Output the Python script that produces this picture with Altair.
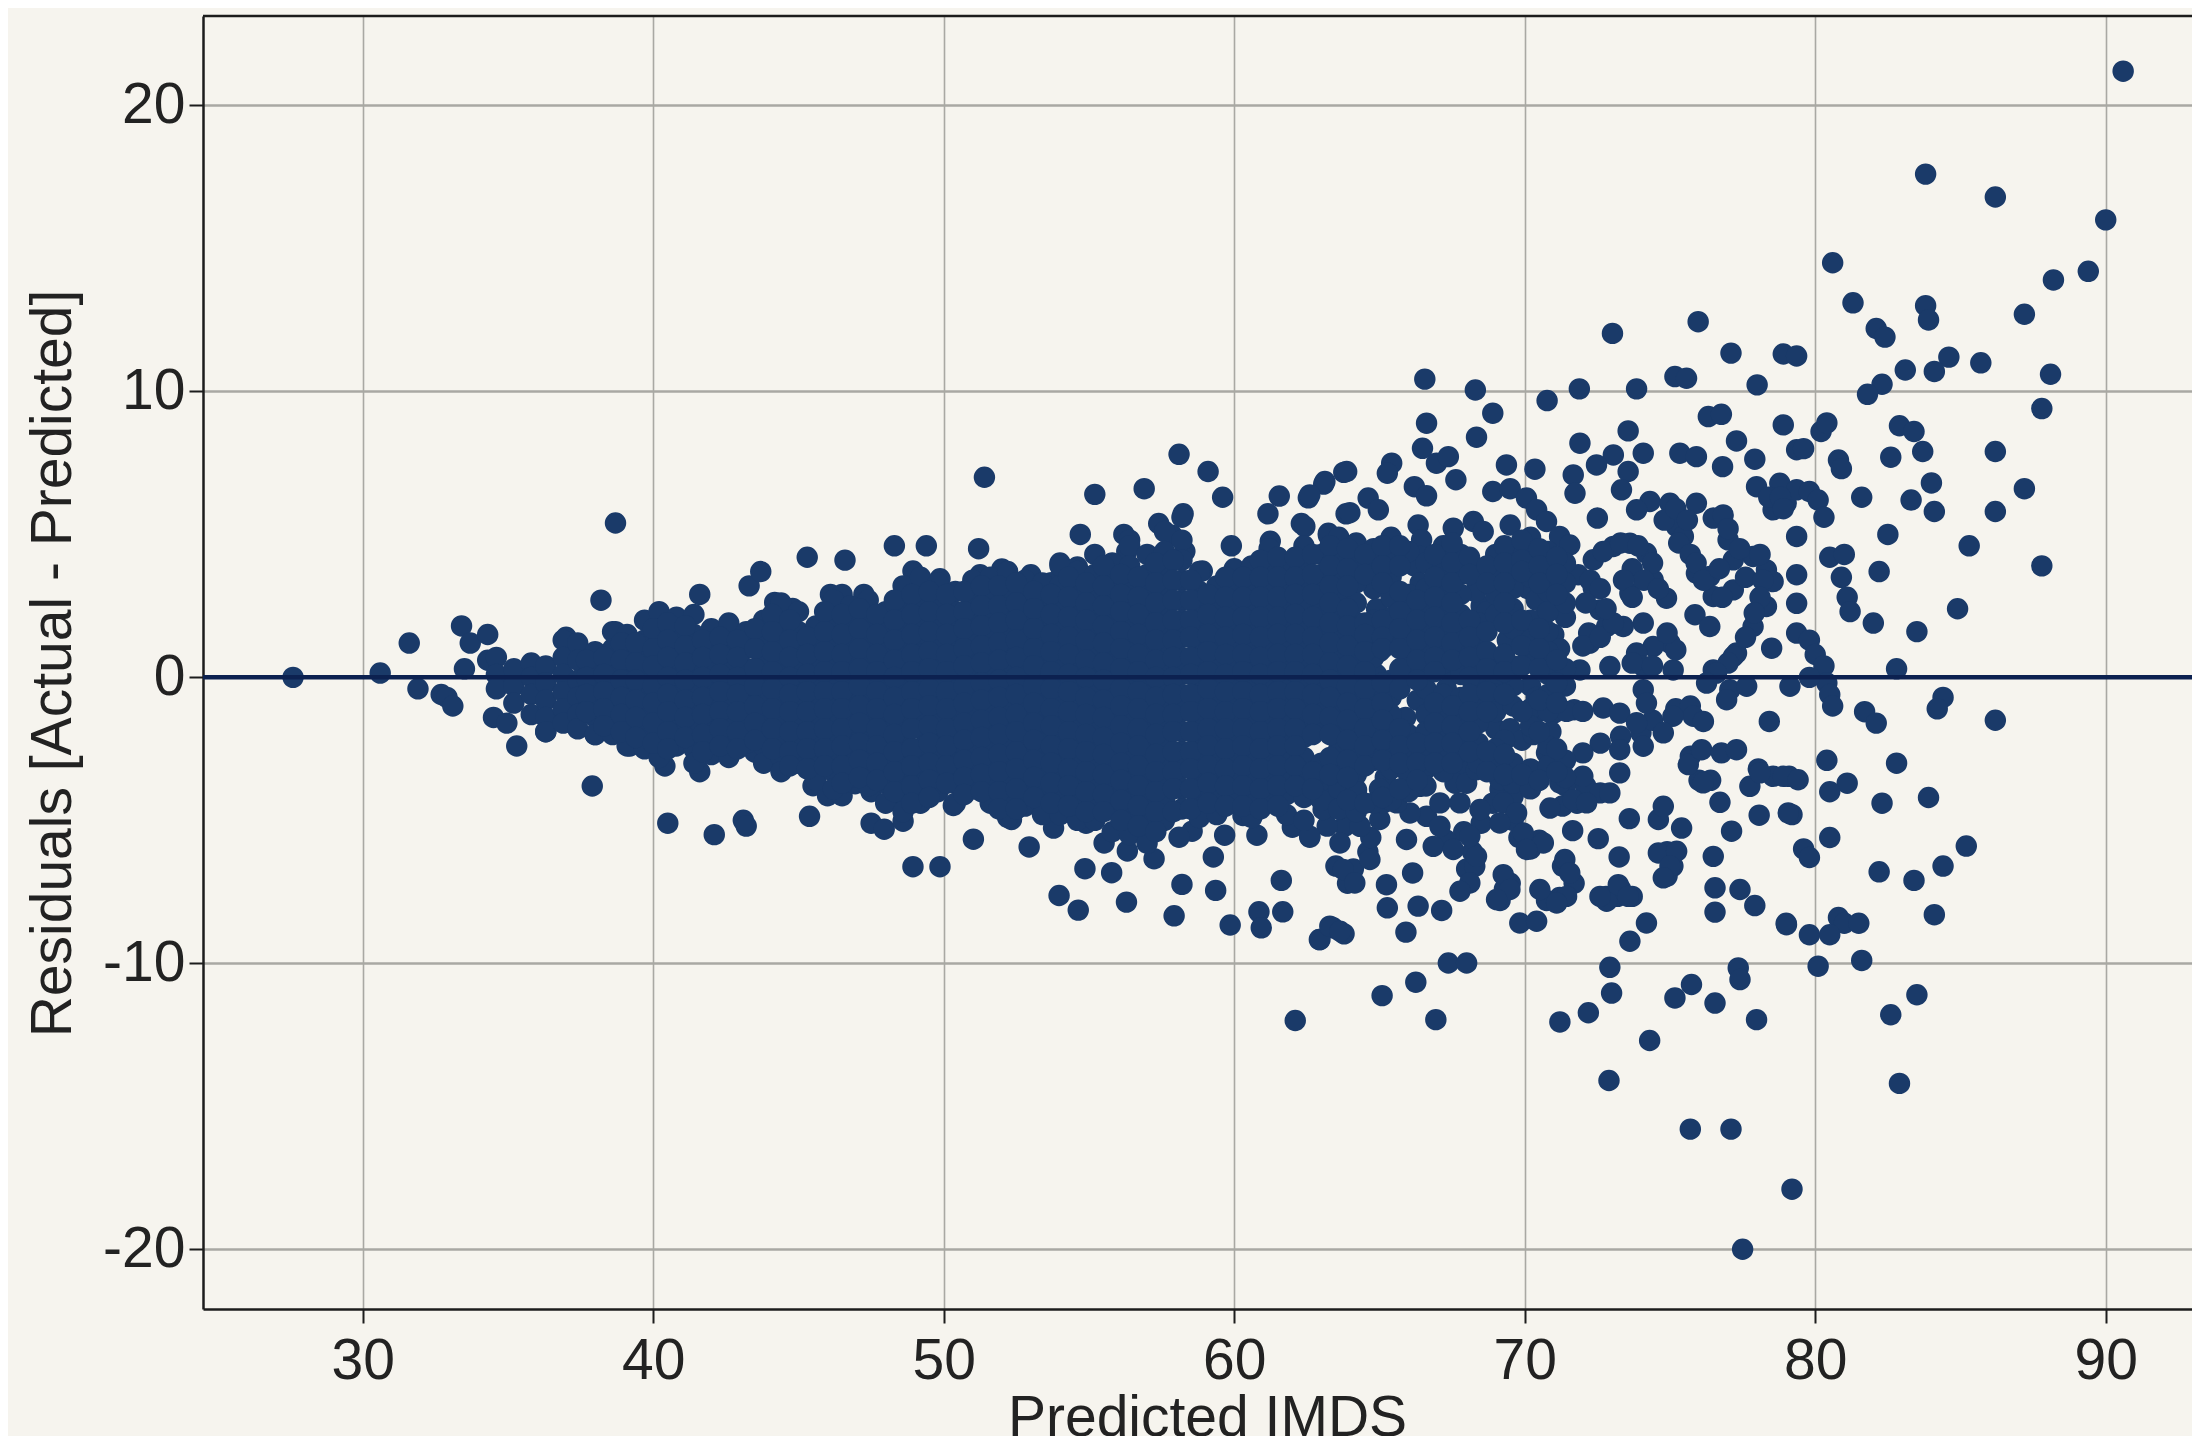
import altair as alt
import pandas as pd

# Hand-read points: sparse outer points, (predicted, residual)
left_tail = [(27.6,0.0),(30.6,0.15),(31.6,1.2),(31.9,-0.4),(32.7,-0.6),(32.9,-0.7),(33.1,-1.0),(33.4,1.8),
 (33.7,1.2),(34.3,1.5),(33.5,0.3),(34.3,0.6),(34.7,-0.1),(34.5,-1.4),(34.96,-1.6),(35.3,-2.4),(36.3,-1.9),
 (37.0,1.4),(37.2,-1.6),(38.2,2.7),(37.9,-3.8),(38.0,-2.0),(38.7,1.6),(38.7,5.4),(39.2,-2.4),(40.4,-3.1),
 (40.5,-5.1),(41.6,-3.3),(42.1,-5.5),(43.1,-5.0),(43.2,-5.2),(41.6,2.9),(43.3,3.2),(43.7,3.7)]

upper_mid = [(45.3,4.2),(46.6,4.1),(48.3,4.6),(49.4,4.6),(51.2,4.5),(51.4,7.0),(55.2,6.4),(56.9,6.6),(58.1,7.8),
 (59.1,7.2),(59.6,6.3),(54.7,5.0),(56.2,5.0),(56.4,4.8),(59.9,4.6),(58.24,5.72),(57.4,5.38),(61.55,6.34),
 (61.16,5.72),(62.55,6.28),(63.08,6.76),(63.77,7.17),(62.31,5.38),(61.24,4.76),(63.24,4.97),(63.85,5.72),
 (44.18,2.62),(44.8,2.41),(46.1,2.9),(46.5,2.9),(47.25,2.9),(48.94,3.72),(49.87,3.45),(51.25,3.59),(52.0,3.79),
 (53.0,3.59),(53.7,3.31),(54.0,4.0),(54.6,3.86),(56.3,4.41),(57.86,4.97),(58.3,4.41),(58.9,3.72),(61.1,4.14)]

lower_mid = [(45.38,-4.86),(43.5,-2.62),(44.4,-3.24),(45.5,-3.79),(46.0,-4.14),(46.5,-4.14),(46.95,-3.72),(47.5,-4.0),
 (47.5,-5.1),(47.95,-5.31),(48.6,-5.03),(48.6,-4.55),(48.94,-6.62),(49.87,-6.62),(50.33,-4.48),(51.02,-5.66),
 (52.94,-5.93),(53.78,-5.27),(52.33,-4.97),(54.9,-5.1),(55.52,-5.79),(56.32,-6.07),(57.24,-6.34),(54.86,-6.69),
 (55.78,-6.83),(53.97,-7.63),(54.63,-8.14),(56.29,-7.86),(58.2,-7.24),(57.93,-8.34),(59.36,-7.45),(59.28,-6.28),
 (58.55,-5.38),(58.1,-5.59),(59.67,-5.52),(59.86,-8.66),(61.62,-7.1),(60.85,-8.2),(60.93,-8.76),(61.67,-8.2),
 (60.78,-5.52),(60.3,-4.83),(62.0,-5.24),(62.6,-5.59),(62.93,-9.17),(63.4,-8.76),(63.78,-8.97),(62.1,-12.0)]

upper_right_a = [(66.56,10.43),(68.3,10.05),(68.9,9.24),(68.34,8.4),(66.62,8.89),(66.48,8.01),(66.96,7.49),(67.37,7.72),
 (67.63,6.91),(63.87,7.2),(63.12,6.85),(62.6,6.38),(65.42,7.49),(65.27,7.14),(66.2,6.67),(66.62,6.35),(64.61,6.27),
 (64.96,5.86),(63.98,5.76),(66.33,5.33),(66.45,4.81),(66.39,4.23),(63.24,5.04),(62.43,5.28),(69.37,7.43),(70.35,7.28),
 (68.9,6.5),(69.5,6.6),(70.06,6.27),(70.41,5.86),(70.75,5.45),(71.2,4.93),(71.55,4.63),(67.54,5.22),(68.23,5.45),
 (68.57,5.1),(69.5,5.33),(70.77,9.68),(71.88,10.09),(73.85,10.09),(73.02,12.03),(75.97,12.44),(77.1,11.34),(78.9,11.31),
 (79.36,11.24),(75.17,10.52),(75.57,10.46),(78.0,10.23),(76.32,9.12),(76.77,9.2),(78.9,8.83),(73.56,8.62),(71.9,8.19)]

upper_right_b = [(73.05,7.78),(72.47,7.43),(74.08,7.84),(73.56,7.2),(75.34,7.84),(75.91,7.72),(77.29,8.27),(77.92,7.63),
 (76.81,7.37),(79.36,7.96),(71.67,7.08),(71.73,6.44),(73.33,6.56),(72.5,5.57),(74.31,6.15),(73.85,5.86),(75.0,6.09),
 (75.91,6.09),(75.23,5.27),(75.46,4.93),(76.49,5.57),(76.83,5.68),(77.0,4.81),(77.98,6.67),(78.78,6.79),(78.55,5.86),
 (79.0,6.09),(79.36,6.56),(79.36,4.93),(77.86,4.23),(78.32,3.76),(78.55,3.35),(77.18,4.11),(76.37,3.53),(75.91,3.64),
 (76.49,2.83),(77.18,3.06),(78.32,2.48),(77.86,1.78),(77.29,0.85),(79.36,3.59),(79.36,2.59),(78.5,1.02),(79.36,1.55),
 (75.86,2.19),(76.37,1.78),(72.36,4.11),(73.05,4.58),(73.62,4.69),(74.19,4.34),(71.84,3.59),(72.36,3.12),(73.62,2.94),
 (74.42,3.41),(74.88,2.77),(72.59,2.36),(72.82,1.78),(72.24,1.2),(74.08,1.9),(73.39,1.78),(75.0,1.2),(74.42,1.08),
 (73.85,0.85),(72.93,0.38),(71.9,0.26),(76.49,0.26),(77.18,0.73),(74.08,0.38),(75.11,0.26)]

upper_chains = [(72.7,4.4),(73.3,4.7),(73.9,4.6),(74.4,4.0),(73.7,3.8),(74.1,3.4),(73.4,3.4),(73.7,2.8),(74.6,3.1),
 (74.8,5.5),(75.2,5.9),(75.6,5.5),(75.3,4.7),(75.7,4.3),(75.9,4.0),(76.15,3.4),(76.7,3.8),(77.4,4.5),(78.1,4.3),(77.6,3.5),
 (78.2,3.4),(76.8,2.8),(78.1,2.8),(77.9,2.25),(77.6,1.4),(77.0,0.5),(76.6,0.15),(78.4,6.3),(78.8,6.3),(78.9,5.9),(77.0,5.2),
 (75.2,0.96),(73.7,0.5),(74.4,0.4),(74.9,1.55),(72.2,1.55),(72.0,1.1),(72.6,1.4),(73.05,1.9),(72.25,3.4),(72.6,3.1),(72.8,2.4),
 (72.1,2.6),(71.4,2.1),(70.75,2.25)]

lower_chains = [(70.3,-1.36),(71.0,-1.25),(71.7,-1.13),(70.9,-1.9),(70.75,-2.64),(71.1,-3.2),(71.4,-3.8),(72.1,-3.8),(72.6,-4.04),
 (72.6,-2.3),(73.3,-2.06),(74.0,-1.94),(74.4,-1.5),(75.2,-1.1),(75.7,-1.0),(77.06,-0.43),(69.4,-3.2),(69.15,-3.9),(69.6,-4.16),
 (68.9,-4.4),(68.5,-5.1),(67.9,-5.4),(67.3,-5.7),(68.2,-6.1),(68.0,-6.7),(64.1,-6.7),(63.9,-7.2),(63.5,-6.6),(64.6,-6.1),(64.7,-5.6),
 (63.8,-5.2),(63.2,-5.2),(63.4,-4.2),(63.6,-4.6),(63.0,-3.6),(63.1,-4.2),(71.3,-6.6),(71.7,-7.2),(71.2,-7.7),(70.75,-7.8),(69.3,-7.4),
 (69.15,-7.8),(69.5,-7.2),(70.2,-6.0),(70.5,-5.7),(69.8,-5.6),(69.6,-5.0),(71.8,-4.4),(71.3,-4.5),(74.9,-6.1),(75.1,-6.6),(74.9,-6.95),
 (73.2,-7.66),(72.8,-7.66),(73.3,-7.4),(73.7,-7.66),(78.04,-3.2),(78.55,-3.46),(79.1,-3.46),(75.7,-2.76),(76.0,-3.6),(76.4,-3.6)]

inner_gaps = [(66.3,-0.8),(65.9,-1.4),(66.6,-1.3),(66.2,3.9),(66.4,3.3),(69.0,-1.8),(69.5,-1.8),(64.8,3.1),(64.9,2.4),(65.0,0.9),
 (64.9,0.1),(67.5,0.1),(67.3,-0.4),(70.1,3.1),(70.4,2.7),(70.2,-0.3),(70.4,-0.7),(68.5,2.5),(68.3,3.0),(68.7,2.3),(69.8,1.4),
 (69.4,1.3),(71.0,1.5),(71.2,1.0),(67.8,-3.2),(67.6,-3.7),(68.0,-3.7),(65.2,-3.5),(65.0,-3.9),(69.9,-2.2),(70.3,-2.0),(69.3,-2.2)]

far_upper = [(90.6,21.2),(83.8,17.6),(86.2,16.8),(90.0,16.0),(80.6,14.5),(89.4,14.2),(88.2,13.9),(81.3,13.1),(87.2,12.7),
 (83.8,13.0),(83.9,12.5),(82.1,12.2),(82.4,11.9),(84.6,11.2),(85.7,11.0),(84.1,10.7),(83.1,10.75),(82.3,10.25),(81.8,9.9),
 (88.1,10.6),(87.8,9.4),(80.2,8.6),(80.4,8.9),(79.6,8.0),(82.9,8.8),(83.4,8.6),(83.7,7.9),(86.2,7.9),(82.6,7.7),(80.8,7.6),
 (80.9,7.3),(84.0,6.8),(83.3,6.2),(84.1,5.8),(81.6,6.3),(79.8,6.5),(80.1,6.2),(80.3,5.6),(86.2,5.8),(87.2,6.6),(85.3,4.6),
 (87.8,3.9),(84.9,2.4),(82.5,5.0),(82.2,3.7),(82.0,1.9),(83.5,1.6),(82.8,0.3),(80.5,4.2),(81.0,4.3),(80.9,3.5),(81.1,2.8),
 (81.2,2.3),(79.8,1.3),(80.0,0.8),(80.3,0.4),(80.4,-0.2),(80.5,-0.6),(80.6,-1.0),(79.8,0.0)]

far_lower = [(84.4,-0.7),(84.2,-1.1),(86.2,-1.5),(81.7,-1.2),(82.1,-1.6),(82.8,-3.0),(81.1,-3.7),(80.5,-4.0),(82.3,-4.4),
 (83.9,-4.2),(80.4,-2.9),(85.2,-5.9),(84.4,-6.6),(80.5,-5.6),(83.4,-7.1),(82.2,-6.8),(84.1,-8.3),(80.8,-8.4),(81.0,-8.6),
 (81.5,-8.6),(79.8,-9.0),(80.5,-9.0),(79.0,-8.6),(80.1,-10.1),(81.6,-9.9),(83.5,-11.1),(82.6,-11.8),(82.9,-14.2),(79.2,-17.9),
 (77.5,-20.0),(75.7,-15.8),(77.1,-15.8),(72.9,-14.1),(74.3,-12.7),(79.2,-4.8),(79.6,-6.0),(79.8,-6.3)]

lower_right_a = [(78.42,-1.54),(79.13,-0.31),(76.49,-6.26),(77.12,-5.38),(78.07,-4.82),(79.07,-4.74),(76.55,-7.36),(77.41,-7.42),
 (77.92,-7.98),(76.55,-8.21),(79.01,-8.65),(77.35,-10.16),(77.41,-10.57),(77.98,-11.97),(76.55,-11.39),(75.74,-10.74),
 (75.17,-11.21),(72.99,-11.04),(72.93,-10.14),(72.19,-11.73),(71.21,-12.05),(73.62,-9.23),(74.19,-8.59),(72.82,-7.83),
 (72.59,-7.66),(73.22,-7.25),(73.56,-7.66),(73.25,-6.28),(72.53,-5.64),(71.65,-5.36),(73.6,-4.94),(75.4,-5.27),(74.6,-4.97),
 (74.77,-4.51),(74.6,-6.14),(75.23,-6.08),(75.0,-6.6),(74.77,-7.01),(75.63,-3.05),(76.14,-3.69),(76.72,-4.37),(76.09,-2.53),
 (76.77,-2.64),(77.29,-2.53),(77.75,-3.81),(78.1,-3.34),(78.9,-3.46),(79.41,-3.58),(75.8,-1.36),(75.1,-1.36),(76.15,-1.54),
 (74.77,-1.94),(74.08,-2.41),(73.27,-2.53),(77.64,-0.31),(76.95,-0.78),(76.26,-0.2),(74.08,-0.43),(74.19,-0.9),(72.7,-1.07),
 (73.27,-1.25),(73.85,-1.59)]

lower_right_b = [(71.44,-1.19),(72.0,-1.19),(72.0,-2.64),(72.0,-3.46),(73.27,-3.34),(72.93,-4.04),(71.21,-3.69),(71.67,-4.28),
 (70.87,-4.57),(72.13,-4.39),(70.18,-3.23),(69.26,-4.39),(69.72,-4.74),(69.14,-5.09),(69.95,-5.44),(70.64,-5.79),(70.06,-6.02),
 (71.38,-6.37),(71.55,-6.84),(71.44,-7.66),(71.1,-7.89),(70.52,-7.42),(69.83,-8.59),(70.41,-8.53),(69.26,-6.9),(69.49,-7.42),
 (69.03,-7.77),(68.28,-6.61),(68.11,-7.19),(67.77,-7.48),(66.14,-6.84),(65.24,-7.25),(65.27,-8.06),(66.33,-8.0),(67.14,-8.15),
 (65.91,-8.91),(62.95,-9.17),(63.29,-8.7),(63.64,-8.88),(67.37,-9.99),(68.0,-9.99),(66.25,-10.66),(65.09,-11.13),(66.94,-11.97),
 (63.75,-6.72),(64.15,-7.19),(64.67,-6.37),(63.64,-5.79),(62.6,-5.56),(65.93,-5.67),(64.33,-5.21),(65.01,-4.97),(63.06,-4.62),
 (62.72,-3.93),(64.21,-3.93),(66.85,-5.91),(67.54,-6.02),(68.11,-5.56),(68.34,-6.26),(66.62,-4.86),(67.08,-5.21),(66.05,-4.74),
 (65.59,-4.39),(65.13,-4.39),(66.39,-3.81),(67.08,-4.39),(67.77,-4.39),(68.46,-4.62),(69.14,-3.58),(68.34,-3.23),(68.8,-2.76),
 (67.65,-2.41),(67.3,-2.53)]

# Dense central band, read as stacks of points per predicted value
band_x = [34.6,35.2,35.8,36.3,36.9,37.4,38.0,38.6,39.1,39.7,40.2,40.8,41.4,42.0,42.6,43.2,43.8,44.4,45.0,45.6,46.2,46.8,47.4,48.0,
 48.6,49.2,49.8,50.4,51.0,51.6,52.2,52.8,53.4,54.0,54.6,55.2,55.8,56.4,57.0,57.6,58.2,58.8,59.4,60.0,60.6,61.2,61.8,62.4,63.0,
 63.6,64.2,64.8,65.4,66.0,66.6,67.2,67.8,68.4,69.0,69.6,70.2,70.8,71.4]
band_y = [
 [0.7,0.1,-0.4],[0.3,-0.3,-0.9],[0.5,0.0,-0.6,-1.3],[0.4,-0.2,-0.8,-1.4,-1.9],[1.3,0.7,0.1,-0.5,-1.1,-1.6],
 [1.2,0.6,-0.1,-0.7,-1.3,-1.8],[0.9,0.3,-0.3,-0.9,-1.4,-2.0],[1.6,1.0,0.4,-0.2,-0.8,-1.5,-2.0],[1.5,0.9,0.2,-0.4,-1.0,-1.7,-2.4],
 [2.0,1.3,0.7,0.1,-0.6,-1.2,-1.9,-2.5],[2.3,1.7,1.0,0.4,-0.2,-0.9,-1.5,-2.2,-2.8],[2.1,1.4,0.8,0.2,-0.4,-1.0,-1.7,-2.4],
 [2.2,1.5,0.9,0.2,-0.5,-1.1,-1.8,-2.5,-3.0],[1.7,1.0,0.4,-0.2,-0.9,-1.5,-2.2,-2.7],[1.9,1.2,0.5,-0.1,-0.8,-1.4,-2.1,-2.8],
 [1.6,1.0,0.3,-0.4,-1.0,-1.7,-2.3],[2.0,1.3,0.6,0.0,-0.6,-1.3,-1.9,-2.4,-3.0],[2.6,1.9,1.2,0.5,-0.2,-0.8,-1.5,-2.1,-2.8,-3.3],
 [2.3,1.6,1.0,0.3,-0.4,-1.0,-1.7,-2.3,-3.0],[1.8,1.1,0.5,-0.2,-0.8,-1.5,-2.2,-2.8,-3.6],[2.7,2.0,1.3,0.7,0.0,-0.6,-1.3,-1.9,-2.6,-3.3,-3.9],
 [2.5,1.8,1.1,0.4,-0.3,-0.9,-1.6,-2.2,-2.9,-3.5],[2.7,2.1,1.4,0.7,0.1,-0.6,-1.2,-1.9,-2.6,-3.2,-3.8],[2.3,1.6,0.9,0.3,-0.4,-1.0,-1.7,-2.3,-3.0,-3.7,-4.4],
 [3.2,2.5,1.8,1.1,0.5,-0.2,-0.8,-1.5,-2.1,-2.8,-3.4,-4.1,-4.7],[3.5,2.8,2.1,1.4,0.8,0.1,-0.5,-1.2,-1.8,-2.5,-3.2,-3.8,-4.4],
 [3.3,2.6,1.9,1.2,0.5,-0.1,-0.8,-1.4,-2.1,-2.7,-3.4,-4.0],[3.0,2.3,1.6,0.9,0.3,-0.4,-1.0,-1.7,-2.4,-3.0,-3.7,-4.4],
 [3.4,2.7,2.0,1.3,0.7,0.0,-0.6,-1.3,-2.0,-2.6,-3.3,-3.9],[3.5,2.9,2.2,1.5,0.8,0.2,-0.5,-1.1,-1.8,-2.4,-3.1,-3.8,-4.4],
 [3.7,3.0,2.3,1.6,1.0,0.3,-0.3,-1.0,-1.6,-2.3,-2.9,-3.6,-4.3,-4.9],[3.4,2.7,2.1,1.4,0.7,0.1,-0.6,-1.2,-1.9,-2.5,-3.2,-3.8,-4.5],
 [3.3,2.6,1.9,1.2,0.6,-0.1,-0.7,-1.4,-2.0,-2.7,-3.3,-4.0,-4.8],[3.9,3.2,2.5,1.8,1.1,0.5,-0.2,-0.8,-1.5,-2.2,-2.8,-3.5,-4.1,-4.8],
 [3.7,3.0,2.4,1.7,1.0,0.3,-0.3,-1.0,-1.6,-2.3,-2.9,-3.6,-4.3,-5.0],[4.3,3.6,2.9,2.2,1.5,0.9,0.2,-0.4,-1.1,-1.7,-2.4,-3.0,-3.7,-4.4,-5.0],
 [4.0,3.3,2.6,1.9,1.3,0.6,0.0,-0.7,-1.3,-2.0,-2.6,-3.3,-4.0,-4.6,-5.4],[4.6,3.9,3.2,2.5,1.8,1.1,0.5,-0.2,-0.8,-1.5,-2.1,-2.8,-3.5,-4.1,-4.8,-5.5],
 [4.3,3.6,2.9,2.3,1.6,0.9,0.3,-0.4,-1.0,-1.7,-2.4,-3.0,-3.7,-4.4,-5.0,-5.8],[5.1,4.4,3.7,3.0,2.3,1.6,1.0,0.3,-0.3,-1.0,-1.6,-2.3,-3.0,-3.6,-4.3,-5.0],
 [5.6,4.8,4.1,3.4,2.7,2.0,1.4,0.7,0.1,-0.6,-1.2,-1.9,-2.6,-3.2,-3.9,-4.6],[3.7,3.0,2.3,1.7,1.0,0.4,-0.3,-0.9,-1.6,-2.2,-2.9,-3.6,-4.2,-4.9],
 [3.2,2.5,1.8,1.2,0.5,-0.1,-0.8,-1.4,-2.1,-2.7,-3.4,-4.1,-4.8],[3.8,3.1,2.4,1.7,1.1,0.4,-0.2,-0.9,-1.5,-2.2,-2.8,-3.5,-4.2],
 [3.9,3.2,2.5,1.8,1.2,0.5,-0.1,-0.8,-1.4,-2.1,-2.7,-3.4,-4.1,-4.9],[4.5,3.8,3.1,2.4,1.7,1.0,0.4,-0.3,-0.9,-1.6,-2.2,-2.9,-3.6,-4.3],
 [3.9,3.2,2.5,1.8,1.2,0.5,-0.1,-0.8,-1.4,-2.1,-2.7,-3.4,-4.1,-4.8],[4.6,3.9,3.2,2.5,1.8,1.1,0.5,-0.2,-0.8,-1.5,-2.1,-2.8,-3.5,-4.2,-5.0],
 [4.3,3.6,3.0,2.3,1.6,0.9,0.3,-0.4,-1.0,-1.7,-3.0,-3.6,-4.3],[4.9,4.2,3.5,2.8,2.1,1.4,0.8,0.1,-0.5,-1.2,-1.8,-2.5,-3.2,-3.9,-4.6],
 [4.7,4.0,3.3,2.6,1.9,1.2,0.6,-0.1,-0.7,-1.4,-2.0,-2.7,-3.4,-4.0,-4.7],[4.5,3.8,2.0,1.3,0.7,-0.3,-1.0,-1.6,-2.3,-2.9,-4.4],
 [4.9,4.2,3.5,2.8,2.1,1.4,-0.1,-0.7,-1.3,-2.0,-2.6,-3.2,-4.3],[4.4,2.9,2.2,1.5,0.8,0.1,-2.0,-2.7,-3.4,-4.0],
 [4.0,3.1,2.4,1.7,1.0,0.3,-0.4,-1.9,-2.6,-3.2,-3.8],[4.6,3.9,3.2,2.5,1.8,1.1,0.5,-0.6,-1.3,-2.0,-2.7,-3.3],
 [4.3,3.6,2.9,2.2,1.5,0.8,0.1,-0.7,-1.4,-2.0,-2.6],[3.7,1.9,1.2,0.5,-0.2,-0.9,-1.6,-2.3,-3.0],
 [4.3,3.6,2.9,2.2,0.6,0.0,-0.6,-1.2,-2.5,-3.2],[4.5,3.8,3.1,2.4,1.7,0.4,-0.3,-1.0,-3.0,-3.7],
 [4.9,4.2,3.5,2.0,1.3,0.6,-1.1,-1.7,-3.2,-3.9],[4.4,3.7,3.0,2.3,1.6,0.9,0.1,-0.6,-1.2,-2.4,-3.1],[4.0,3.3,2.6,0.3,-0.3,-2.9,-3.5],
]

core_x = [37.7,38.3,38.9,39.4,40.0,40.5,41.1,41.7,42.3,42.9,43.5,44.1,44.7,45.3,45.9,46.5,47.1,47.7,48.3,48.9,49.5,50.1,50.7,51.3,
 51.9,52.5,53.1,53.7,54.3,54.9,55.5,56.1,56.7,57.3,57.9,58.5,59.1,59.7,60.3,60.9,61.5,62.1,62.7,63.3,63.9,64.5,65.1,65.7,66.3,
 66.9,67.5,68.1,68.7,69.3,69.9,70.5,71.1]
core_y = [
 [0.6,0.0,-0.6,-1.2],[0.7,0.1,-0.5,-1.1,-1.7],[1.2,0.6,-0.1,-0.7,-1.3,-1.9],[1.2,0.5,-0.1,-0.8,-1.4,-2.1],[1.7,1.0,0.4,-0.3,-0.9,-1.6,-2.3],
 [1.9,1.3,0.7,0.0,-0.6,-1.2,-1.9,-2.5],[1.8,1.1,0.5,-0.1,-0.8,-1.4,-2.1],[1.3,0.7,0.0,-0.7,-1.3,-2.0,-2.6],[1.4,0.8,0.1,-0.5,-1.2,-1.8,-2.4],
 [1.3,0.7,0.0,-0.6,-1.2,-1.9,-2.5],[1.7,1.0,0.3,-0.3,-1.0,-1.6,-2.2],[2.2,1.6,0.9,0.2,-0.4,-1.1,-1.8,-2.5],[2.0,1.3,0.7,0.0,-0.6,-1.2,-1.9,-2.6,-3.1],
 [1.4,0.8,0.1,-0.5,-1.2,-1.9,-2.5,-3.2],[2.3,1.6,0.9,0.2,-0.5,-1.1,-1.8,-2.5,-3.1],[2.2,1.5,0.8,0.2,-0.5,-1.1,-1.8,-2.4,-3.1,-3.7],
 [2.4,1.7,1.0,0.3,-0.3,-1.0,-1.6,-2.3,-2.9,-3.5],[2.2,1.5,0.8,0.2,-0.5,-1.1,-1.8,-2.4,-3.0,-3.6],[2.7,2.0,1.3,0.6,0.0,-0.7,-1.3,-2.0,-2.6,-3.3,-4.0],
 [2.9,2.2,1.5,0.8,0.2,-0.5,-1.1,-1.8,-2.5,-3.1,-3.8,-4.4],[3.0,2.3,1.6,0.9,0.3,-0.4,-1.0,-1.7,-2.3,-3.0,-3.6,-4.2],[2.9,2.2,1.5,0.8,0.2,-0.5,-1.1,-1.8,-2.4,-3.1,-3.7],
 [3.0,2.3,1.7,1.0,0.4,-0.3,-0.9,-1.6,-2.2,-2.9,-3.5,-4.1],[3.2,2.5,1.8,1.1,0.5,-0.2,-0.8,-1.5,-2.1,-2.8,-3.4,-4.0],[3.2,2.5,1.9,1.2,0.6,-0.1,-0.7,-1.4,-2.0,-2.7,-3.3,-4.0,-4.6],
 [3.3,2.6,2.0,1.3,0.7,0.0,-0.6,-1.3,-1.9,-2.6,-3.2,-3.9,-4.6],[3.0,2.4,1.7,1.0,0.4,-0.3,-0.9,-1.6,-2.2,-2.9,-3.5,-4.2],[2.9,2.2,1.5,0.9,0.2,-0.4,-1.1,-1.7,-2.4,-3.0,-3.7,-4.4],
 [3.5,2.8,2.1,1.4,0.8,0.1,-0.5,-1.2,-1.9,-2.5,-3.2,-3.8,-4.5],[3.3,2.6,2.0,1.3,0.6,0.0,-0.7,-1.3,-2.0,-2.6,-3.3,-4.0,-4.7],[3.9,3.2,2.5,1.8,1.2,0.5,-0.1,-0.8,-1.4,-2.1,-2.7,-3.4,-4.1,-4.7],
 [3.6,2.9,2.3,1.6,1.0,0.3,-0.4,-1.0,-1.7,-2.3,-3.0,-3.6,-4.3,-5.0],[3.5,2.8,2.2,1.5,0.8,0.2,-0.5,-1.1,-1.8,-2.4,-3.1,-3.8,-4.5,-5.2],[4.0,3.3,2.6,1.9,1.3,0.6,0.0,-0.7,-1.3,-2.0,-2.7,-3.3,-4.0,-4.7,-5.4],
 [4.1,3.4,2.7,2.0,1.3,0.7,0.0,-0.6,-1.3,-1.9,-2.6,-3.3,-3.9,-4.7],[3.4,2.7,2.0,1.4,0.7,0.1,-0.6,-1.2,-1.9,-2.6,-3.2,-3.9,-4.6],[2.9,2.2,1.5,0.9,0.2,-0.4,-1.1,-1.8,-2.4,-3.1,-3.7,-4.4],
 [3.5,2.8,2.1,1.4,0.8,0.1,-0.5,-1.2,-1.8,-2.5,-3.2,-3.8,-4.5],[3.5,2.8,2.1,1.5,0.8,0.2,-0.5,-1.1,-1.8,-2.4,-3.1,-3.8,-4.5],[4.1,3.5,2.8,2.1,1.4,0.7,0.1,-0.6,-1.2,-1.9,-2.5,-3.2,-3.9,-4.6],
 [4.2,3.5,2.8,2.1,1.5,0.8,0.2,-0.5,-1.1,-1.8,-2.4,-3.1,-3.8,-4.5],[4.2,3.5,2.9,2.2,1.5,0.8,0.2,-0.5,-1.1,-1.8,-2.4,-3.1,-3.8],[4.3,3.6,2.9,2.1,1.4,0.8,0.1,-0.6,-1.3,-2.0,-3.3,-3.9],
 [4.6,3.9,3.2,2.6,1.9,1.2,0.5,-0.1,-0.7,-1.4,-2.0,-2.8,-3.4],[4.5,3.8,3.2,2.4,1.8,1.1,0.4,-0.3,-0.9,-1.5,-2.2,-2.9,-3.5,-4.3],[4.3,3.6,1.9,1.5,0.9,0.2,-0.4,-1.1,-1.8,-2.4,-3.1,-4.4],
 [4.6,3.9,3.3,2.0,1.4,1.0,-0.2,-0.9,-1.5,-2.2,-2.9,-4.2],[4.6,3.9,3.0,2.3,1.7,1.0,0.3,-0.4,-1.8,-2.4,-3.0,-3.9],[2.7,2.0,1.3,0.6,-0.1,-2.3,-3.0,-3.6],
 [4.3,3.5,2.8,2.1,1.4,0.7,0.2,-0.9,-1.6,-2.3,-3.0],[4.7,4.0,3.3,2.6,1.9,1.2,0.6,-1.0,-1.7,-2.3,-3.0],[4.2,3.6,2.0,1.4,0.7,0.0,-0.6,-1.2,-1.9,-2.6],
 [3.9,3.3,1.6,0.9,0.3,-0.5,-1.2,-2.6,-3.3],[4.6,4.0,3.3,2.6,1.9,0.8,0.2,-0.6,-2.7,-3.4],[4.8,4.1,3.7,2.0,1.1,0.4,-1.2,-3.4],[4.5,3.9,3.3,1.7,1.0,0.3,-0.8,-1.9,-3.6],[4.2,3.6,2.9,0.6,-0.2,-0.9,-2.5,-3.3],
]

x_ticks = [30, 40, 50, 60, 70, 80, 90]
y_ticks = [-20, -10, 0, 10, 20]
x_domain = [24.5, 92.97]
y_domain = [-22.09, 23.13]

pairs = (left_tail + upper_mid + lower_mid + upper_right_a + upper_right_b + upper_chains + lower_chains + inner_gaps
         + far_upper + far_lower + lower_right_a + lower_right_b)
rows = [{"pred": p, "res": r} for p, r in pairs]
for px, stack in list(zip(band_x, band_y)) + list(zip(core_x, core_y)):
    rows += [{"pred": px, "res": r} for r in stack]
df = pd.DataFrame(rows)

FONT = "Liberation Sans"
TXT = "#222222"

x_enc = alt.X("pred:Q", scale=alt.Scale(domain=x_domain, nice=False, zero=False),
    axis=alt.Axis(values=x_ticks, title="Predicted IMDS", grid=True, gridColor="#a9a8a3", gridWidth=1.6,
        domainColor="#1c1c1c", domainWidth=2.5, tickColor="#1c1c1c", tickWidth=2, tickSize=14, labelPadding=10,
        labelFontSize=57, titleFontSize=57, labelFont=FONT, titleFont=FONT, labelColor=TXT, titleColor=TXT,
        titleFontWeight="normal", titleX=1004, titleY=126, titleBaseline="alphabetic", labelExpr="'' + datum.value"))
y_enc = alt.Y("res:Q", scale=alt.Scale(domain=y_domain, nice=False, zero=False),
    axis=alt.Axis(values=y_ticks, title="Residuals [Actual - Predicted]", grid=True, gridColor="#a9a8a3", gridWidth=2.4,
        domainColor="#1c1c1c", domainWidth=2.5, tickColor="#1c1c1c", tickWidth=2, tickSize=14, labelPadding=4,
        labelFontSize=57, titleFontSize=57, labelFont=FONT, titleFont=FONT, labelColor=TXT, titleColor=TXT,
        titleFontWeight="normal", titleX=-133, titleY=647, titleAngle=270, titleBaseline="alphabetic", labelExpr="'' + datum.value"))

points = alt.Chart(df).mark_circle(size=460, color="#1a3a69", opacity=1).encode(x=x_enc, y=y_enc)
zero_line = alt.Chart(pd.DataFrame({"v": [0]})).mark_rule(color="#0c2150", strokeWidth=4.5).encode(y="v:Q")
top_line = alt.Chart(pd.DataFrame({"v": [y_domain[1]]})).mark_rule(color="#1c1c1c", strokeWidth=2.5).encode(y="v:Q")

chart = (alt.layer(points, zero_line, top_line)
    .properties(width=1989, height=1293, background="#f6f4ee",
                padding={"left": 195, "top": 8, "right": 0, "bottom": 127},
                autosize=alt.AutoSizeParams(type="none"))
    .configure_view(stroke=None))

chart.save("out.html", embed_options={"renderer": "svg", "actions": False})
